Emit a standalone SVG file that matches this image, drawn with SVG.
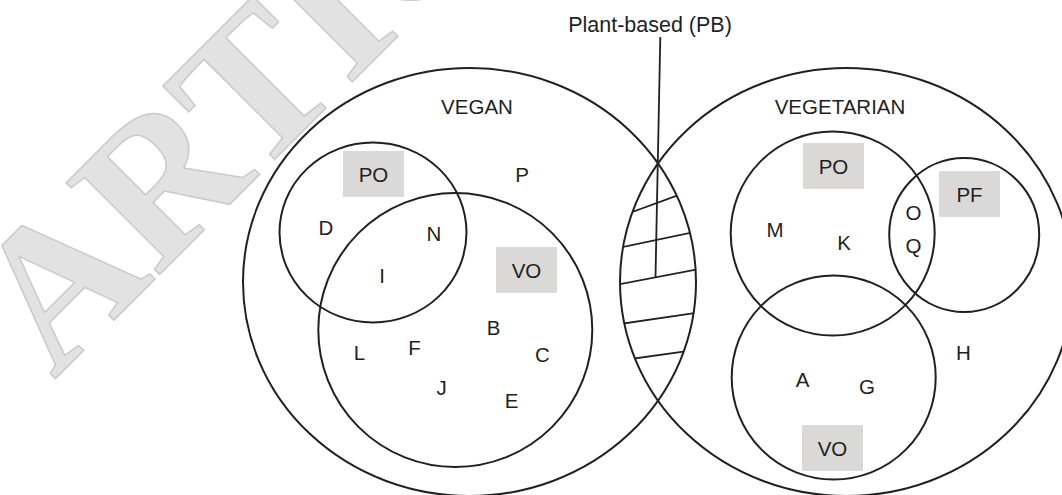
<svg xmlns="http://www.w3.org/2000/svg" width="1062" height="495" viewBox="0 0 1062 495">
  <style>
    .ring { fill: none; stroke: #231f20; stroke-width: 2; }
    .hatch { fill: none; stroke: #231f20; stroke-width: 1.8; }
    .lbl { font-family: "Liberation Sans", Arial, sans-serif; font-size: 20.5px; fill: #231f20; text-anchor: middle; }
    .tag { fill: #dad9d7; }
    .mark { font-family: "Liberation Serif", "Times New Roman", serif; font-weight: bold; font-size: 200px; fill: #e1e2e1; stroke: #c9cac9; stroke-width: 1.5; }
  </style>
  <defs>
    <clipPath id="clipVegan"><ellipse cx="469.5" cy="282" rx="226.5" ry="214"/></clipPath>
    <clipPath id="clipVegetarian"><ellipse cx="846.5" cy="282" rx="226.5" ry="214"/></clipPath>
  </defs>
  <rect width="1062" height="495" fill="#ffffff"/>

  <!-- background watermark -->
  <text class="mark" transform="translate(54,380) rotate(-45)">ARTIC</text>

  <!-- vegan set -->
  <g id="vegan">
    <ellipse class="ring" cx="469.5" cy="282" rx="226.5" ry="214"/>
    <text class="lbl" x="477" y="114">VEGAN</text>
    <text class="lbl" x="522" y="182">P</text>
  </g>
  <g id="vegan-po">
    <ellipse class="ring" cx="373" cy="232.5" rx="93.5" ry="90"/>
    <rect class="tag" x="343" y="151" width="61" height="46"/>
    <text class="lbl" x="373.5" y="182">PO</text>
    <text class="lbl" x="326" y="235">D</text>
    <text class="lbl" x="434" y="241">N</text>
    <text class="lbl" x="382" y="283">I</text>
  </g>
  <g id="vegan-vo">
    <circle class="ring" cx="455.3" cy="330" r="137"/>
    <rect class="tag" x="496" y="247" width="61" height="46"/>
    <text class="lbl" x="526.5" y="278">VO</text>
    <text class="lbl" x="493.5" y="335">B</text>
    <text class="lbl" x="359.5" y="360">L</text>
    <text class="lbl" x="414.5" y="355">F</text>
    <text class="lbl" x="542.5" y="362">C</text>
    <text class="lbl" x="441.5" y="395">J</text>
    <text class="lbl" x="511.5" y="408">E</text>
  </g>

  <!-- vegetarian set -->
  <g id="vegetarian">
    <ellipse class="ring" cx="846.5" cy="282" rx="226.5" ry="214"/>
    <text class="lbl" x="840" y="113.5">VEGETARIAN</text>
    <text class="lbl" x="963.5" y="360">H</text>
  </g>
  <g id="vegetarian-po">
    <circle class="ring" cx="832.7" cy="233.5" r="102"/>
    <rect class="tag" x="803" y="143" width="61" height="46"/>
    <text class="lbl" x="833.5" y="174">PO</text>
    <text class="lbl" x="775" y="237">M</text>
    <text class="lbl" x="844" y="249.5">K</text>
    <text class="lbl" x="913.5" y="220">O</text>
    <text class="lbl" x="913.5" y="252.5">Q</text>
  </g>
  <g id="vegetarian-pf">
    <ellipse class="ring" cx="964.2" cy="235" rx="75" ry="77"/>
    <rect class="tag" x="939" y="171" width="61" height="46"/>
    <text class="lbl" x="969.5" y="202">PF</text>
  </g>
  <g id="vegetarian-vo">
    <circle class="ring" cx="833.7" cy="377.5" r="102"/>
    <rect class="tag" x="802" y="425" width="61" height="46"/>
    <text class="lbl" x="832.5" y="455.5">VO</text>
    <text class="lbl" x="802.5" y="387">A</text>
    <text class="lbl" x="867" y="393.5">G</text>
  </g>

  <!-- plant-based overlap with hatching and its callout -->
  <g id="plant-based">
    <text class="lbl" x="650" y="32.3" style="font-size:21.5px">Plant-based (PB)</text>
  </g>
  <g id="connectors">
    <line class="hatch" x1="660.3" y1="37" x2="655.5" y2="277"/>
    <g clip-path="url(#clipVegan)">
      <g clip-path="url(#clipVegetarian)">
        <line class="hatch" x1="610" y1="220.2" x2="710" y2="183.5"/>
        <line class="hatch" x1="600" y1="251.8" x2="720" y2="226.7"/>
        <line class="hatch" x1="600" y1="288" x2="720" y2="265"/>
        <line class="hatch" x1="600" y1="326.9" x2="720" y2="309.3"/>
        <line class="hatch" x1="600" y1="363.3" x2="720" y2="346.6"/>
      </g>
    </g>
  </g>
</svg>
